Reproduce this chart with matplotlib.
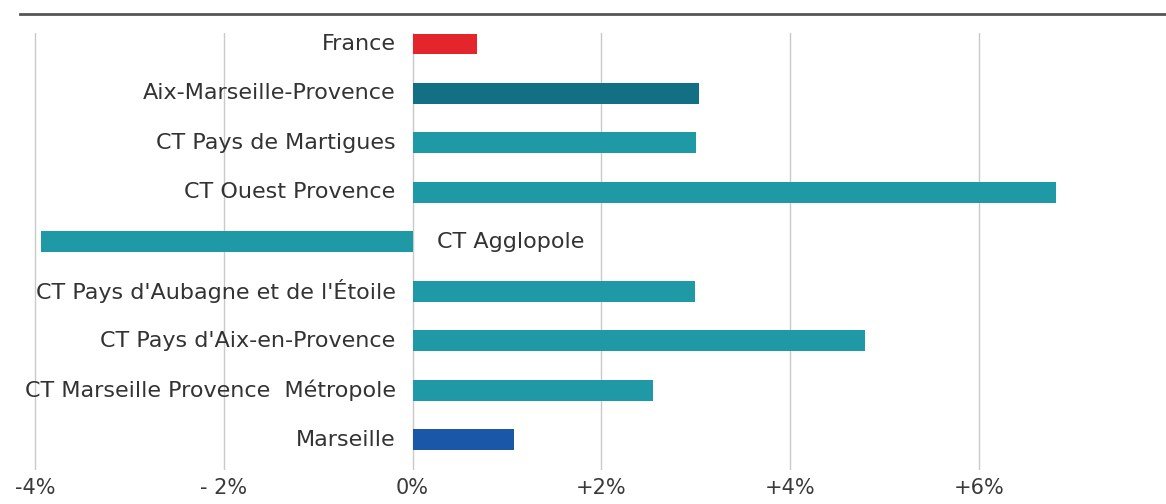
import matplotlib
matplotlib.use("Agg")
import matplotlib.pyplot as plt
from matplotlib.lines import Line2D

plt.rcParams['font.family'] = ['DejaVu Sans']

# data (top to bottom)
labels = ["France", "Aix-Marseille-Provence", "CT Pays de Martigues", "CT Ouest Provence",
          "CT Agglopole", "CT Pays d'Aubagne et de l'Étoile", "CT Pays d'Aix-en-Provence",
          "CT Marseille Provence  Métropole", "Marseille"]
values = [0.68, 3.03, 3.00, 6.82, -3.94, 2.99, 4.79, 2.55, 1.07]
colors = ["#e3262b", "#136f83", "#1e99a5", "#1e99a5", "#1e99a5", "#1e99a5", "#1e99a5",
          "#1e99a5", "#1b57a8"]
xticks = [-4, -2, 0, 2, 4, 6]
xticklabels = ["-4%", "- 2%", "0%", "+2%", "+4%", "+6%"]

fig = plt.figure(figsize=(11.66, 5.04), dpi=100)
ax = fig.add_axes([0, 0.0675, 1, 0.867])

n = len(labels)
ypos = [n - 1 - i for i in range(n)]

for x in xticks:
    ax.axvline(x, color="#c9c9c9", lw=1, zorder=0)

ax.barh(ypos, values, height=0.42, color=colors, zorder=2)

for y, lab, v in zip(ypos, labels, values):
    if v >= 0:
        ax.text(-0.18, y, lab, ha="right", va="center", fontsize=16, color="#333333")
    else:
        ax.text(0.26, y, lab, ha="left", va="center", fontsize=16, color="#333333")

ax.set_xlim(-4.37, 7.98)
ax.set_ylim(-0.61, 8.22)
ax.set_xticks(xticks)
ax.set_xticklabels(xticklabels, fontsize=15, color="#3a3a3a")
ax.tick_params(axis="x", length=0, pad=6)
ax.set_yticks([])
for s in ax.spines.values():
    s.set_visible(False)

fig.add_artist(Line2D([0.017, 1], [0.972, 0.972], color="#555555", lw=2))

fig.savefig("out.png", dpi=100)
